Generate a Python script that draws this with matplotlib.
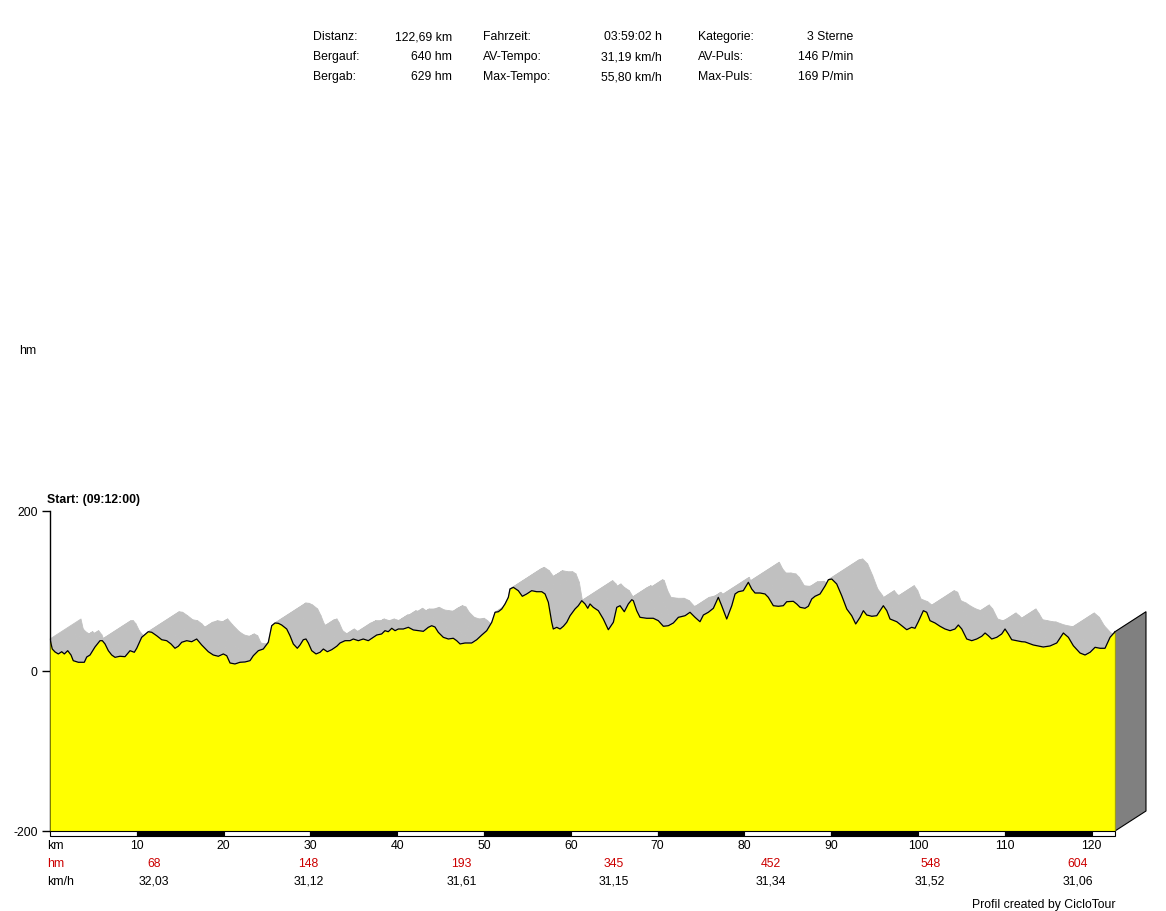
import matplotlib
matplotlib.use('Agg')
import matplotlib.pyplot as plt
from matplotlib.collections import PolyCollection
from matplotlib.patches import Polygon
import numpy as np

plt.rcParams['font.family'] = ['Liberation Sans', 'DejaVu Sans']
plt.rcParams['font.size'] = 8.8

# elevation profile (km, hm)
km = [0.0, 0.26, 0.58, 0.96, 1.35, 1.65, 2.04, 2.42, 2.68, 3.26, 3.95, 4.23, 4.61, 5.18, 5.76, 6.03,
      6.34, 6.72, 7.11, 7.49, 8.06, 8.64, 9.22, 9.71, 9.99, 10.56, 11.32, 11.72, 12.29, 12.87, 13.44,
      13.94, 14.40, 14.78, 15.17, 15.75, 16.32, 16.90, 17.48, 18.24, 18.81, 19.39, 19.97, 20.36, 20.74,
      21.31, 21.89, 22.47, 23.04, 23.42, 24.00, 24.57, 25.15, 25.54, 25.92, 26.30, 26.69, 27.27, 27.65,
      28.03, 28.49, 28.80, 29.18, 29.49, 29.76, 30.15, 30.65, 31.11, 31.49, 31.95, 32.45, 33.03, 33.41,
      33.99, 34.56, 34.94, 35.52, 36.09, 36.67, 37.25, 37.64, 38.21, 38.59, 38.97, 39.37, 39.75, 40.13,
      40.70, 41.28, 41.86, 42.43, 43.01, 43.58, 43.97, 44.35, 44.73, 45.31, 45.89, 46.46, 46.85, 47.24,
      47.81, 48.58, 49.16, 49.74, 50.31, 50.89, 51.27, 51.65, 52.04, 52.42, 52.80, 52.99, 53.38, 53.95,
      54.41, 54.92, 55.49, 56.07, 56.65, 57.03, 57.41, 57.80, 57.98, 58.38, 58.76, 59.14, 59.53, 59.91,
      60.48, 60.86, 61.26, 61.64, 61.95, 62.21, 62.59, 63.17, 63.74, 64.32, 64.90, 65.29, 65.67, 66.16,
      66.62, 67.02, 67.20, 67.59, 67.97, 68.74, 69.50, 70.08, 70.66, 71.23, 71.81, 72.39, 73.16, 73.73,
      74.31, 74.88, 75.27, 75.84, 76.42, 76.99, 77.38, 77.96, 78.54, 78.92, 79.30, 79.87, 80.45, 80.84,
      81.22, 81.80, 82.37, 82.75, 83.33, 83.91, 84.48, 84.87, 85.63, 86.02, 86.41, 86.98, 87.36, 87.75,
      88.13, 88.71, 89.29, 89.67, 90.06, 90.63, 91.21, 91.79, 92.36, 92.82, 93.32, 93.70, 94.09, 94.67,
      95.24, 95.62, 96.00, 96.40, 96.77, 97.55, 98.12, 98.70, 99.27, 99.65, 100.03, 100.61, 101.00,
      101.38, 101.96, 102.53, 103.11, 103.69, 104.26, 104.64, 105.04, 105.61, 106.19, 106.76, 107.34,
      107.72, 108.10, 108.49, 109.07, 109.64, 110.02, 110.40, 110.79, 111.37, 111.95, 112.33, 113.28,
      114.43, 115.21, 115.98, 116.74, 117.32, 117.89, 118.66, 119.24, 119.82, 120.39, 120.97, 121.54,
      122.12, 122.69]
hm = [40, 27.5, 23.8, 21.3, 24.1, 21.3, 25.4, 20, 12.9, 10.9, 10.9, 17.5, 20, 30, 37.9, 37.9,
      33.8, 25.4, 20, 17.1, 18.4, 17.9, 25.4, 23.4, 28.4, 42.1, 49.1, 48.4, 44.1, 39.1, 37.9,
      33.8, 28.4, 30.9, 35.9, 37.9, 36.6, 40, 32.5, 24.1, 20, 18.4, 21.3, 19.1, 10,
      8.8, 10.9, 11.3, 12.9, 19.1, 25.4, 27.5, 35.9, 56.6, 60, 59.6, 57.5, 52.5, 44.1,
      33.8, 28.4, 32.5, 39.1, 40, 35, 25.4, 21.3, 23.4, 27.5, 24.1, 26.6, 30.9, 35,
      37.9, 37.9, 40, 37.9, 40, 37.9, 42.1, 45, 46.3, 50.4, 49.1, 53.4, 50.4, 52.5,
      52.5, 54.6, 51.3, 50.4, 49.6, 54.6, 56.6, 55, 48.4, 42.1, 40, 40.9, 37.9, 33.8,
      35, 35, 39.1, 45, 50.4, 60.9, 73.4, 74.1, 77.5, 83.8, 92.1, 102.5, 104.6, 100.4,
      93.4, 96.3, 100.4, 99.1, 99.1, 96.3, 85.9, 60.9, 52.5, 54.6, 52.5, 55.9, 60.9, 69.1,
      77.5, 81.6, 87.9, 83.8, 78.4, 83.8, 79.6, 75.4, 65, 51.6, 60.9, 79.6, 81.6, 74.1,
      83.8, 89.1, 87.9, 75.4, 67.1, 65.9, 65.9, 62.9, 55.9, 56.6, 60, 67.1, 69.1, 73.4,
      67.1, 61.6, 70, 73.4, 78.4, 92.1, 81.6, 65, 81.6, 96.3, 99.1, 100.4, 110.9, 102.5,
      97.5, 97.5, 96.3, 92.1, 81.6, 80.9, 81.6, 86.6, 87.1, 83.8, 79.6, 78.4, 80.9, 90,
      93.4, 96.3, 106.3, 114.1, 115, 108.8, 94.1, 77.5, 69.1, 58.8, 67.1, 75.4, 70, 68.4,
      69.1, 75.4, 81.6, 75.4, 65, 61.6, 56.6, 51.6, 54.6, 53.4, 61.6, 75.4, 73.4,
      62.9, 60, 55.9, 52.5, 50.4, 52.5, 57.5, 52.5, 40, 37.9, 40, 43.4,
      47.5, 44.1, 40, 42.1, 46.3, 52.5, 46.3, 39.1, 37.9, 36.6, 36.3, 32.5,
      30, 31.3, 35, 47.5, 42.1, 31.6, 22.5, 20, 23.4, 29.6, 28.4, 28.4,
      42.1, 49.1]

km_ticks = [10, 20, 30, 40, 50, 60, 70, 80, 90, 100, 110, 120]
section_km = [12.0, 29.8, 47.4, 64.9, 83.0, 101.4, 118.4]
section_hm = ['68', '148', '193', '345', '452', '548', '604']
section_speed = ['32,03', '31,12', '31,61', '31,15', '31,34', '31,52', '31,06']

info = [
    ('Distanz:', '122,69 km', 'Fahrzeit:', '03:59:02 h', 'Kategorie:', '3 Sterne'),
    ('Bergauf:', '640 hm', 'AV-Tempo:', '31,19 km/h', 'AV-Puls:', '146 P/min'),
    ('Bergab:', '629 hm', 'Max-Tempo:', '55,80 km/h', 'Max-Puls:', '169 P/min'),
]

total_km = 122.69
depth_km, depth_hm = 3.57, 25.0   # 3d offset of the profile
red = '#cc0000'

W, H = 1166, 912
fig = plt.figure(figsize=(W / 100, H / 100), dpi=100)
ax = fig.add_axes([50 / W, 80 / H, 1065 / W, 320 / H])
ax.set_xlim(0, total_km)
ax.set_ylim(-200, 200)

x = np.array(km)
y = np.array(hm)

# grey "3d" top surface
quads = []
for i in range(len(x) - 1):
    quads.append([(x[i], y[i]), (x[i + 1], y[i + 1]),
                  (x[i + 1] + depth_km, y[i + 1] + depth_hm), (x[i] + depth_km, y[i] + depth_hm)])
pc = PolyCollection(quads, facecolor='#c0c0c0', edgecolor='#c0c0c0', linewidth=0.6,
                    clip_on=False, zorder=1)
ax.add_collection(pc)

# side face at the end
side = Polygon([(x[-1], y[-1]), (x[-1] + depth_km, y[-1] + depth_hm),
                (x[-1] + depth_km, -200 + depth_hm), (x[-1], -200)],
               closed=True, facecolor='#808080', edgecolor='black', linewidth=0.8,
               clip_on=False, zorder=2)
ax.add_patch(side)

ax.fill_between(x, -200, y, color='#ffff00', linewidth=0, zorder=3)
ax.plot(x, y, color='black', linewidth=0.9, zorder=4)
ax.plot([total_km, total_km], [y[-1], -200], color='black', linewidth=0.8, zorder=4)

# km bar below the profile
starts = list(range(0, 121, 10))
widths = [min(10, total_km - s) for s in starts]
cols = ['white' if (s // 10) % 2 == 0 else 'black' for s in starts]
ax.bar(starts, [6.25] * len(starts), width=widths, bottom=-206.25, align='edge',
       color=cols, edgecolor='black', linewidth=0.8, clip_on=False, zorder=5)

for s in ['top', 'right', 'bottom']:
    ax.spines[s].set_visible(False)
ax.spines['left'].set_linewidth(1.0)
ax.set_yticks([-200, 0, 200])
ax.set_yticklabels(['-200', '0', '200'])
ax.tick_params(axis='y', length=6, width=1.0, pad=3, labelsize=8.8)
ax.set_xticks([])

# rows under the axis
ax.text(-0.3, -217.5, 'km', ha='left', va='center', clip_on=False)
for t in km_ticks:
    ax.text(t, -217.5, str(t), ha='center', va='center', clip_on=False)
ax.text(-0.3, -240, 'hm', ha='left', va='center', color=red, clip_on=False)
ax.text(-0.3, -262.5, 'km/h', ha='left', va='center', clip_on=False)
for k, h, v in zip(section_km, section_hm, section_speed):
    ax.text(k, -240, h, ha='center', va='center', color=red, clip_on=False)
    ax.text(k, -262.5, v, ha='center', va='center', clip_on=False)

fig.text(1116 / W, 1 - 905 / H, 'Profil created by CicloTour', ha='right', va='center')
fig.text(19 / W, 1 - 351 / H, 'hm', ha='left', va='center')
fig.text(47 / W, 1 - 500 / H, 'Start: (09:12:00)', ha='left', va='center', fontweight='bold')

# header table
col_x = [(313, 'left'), (452, 'right'), (483, 'left'), (662, 'right'), (698, 'left'), (853, 'right')]
for r, row in enumerate(info):
    for (px, ha), txt in zip(col_x, row):
        fig.text(px / W, 1 - (37 + 20 * r) / H, txt, ha=ha, va='center')

fig.savefig('out.png', dpi=100, facecolor='white')
